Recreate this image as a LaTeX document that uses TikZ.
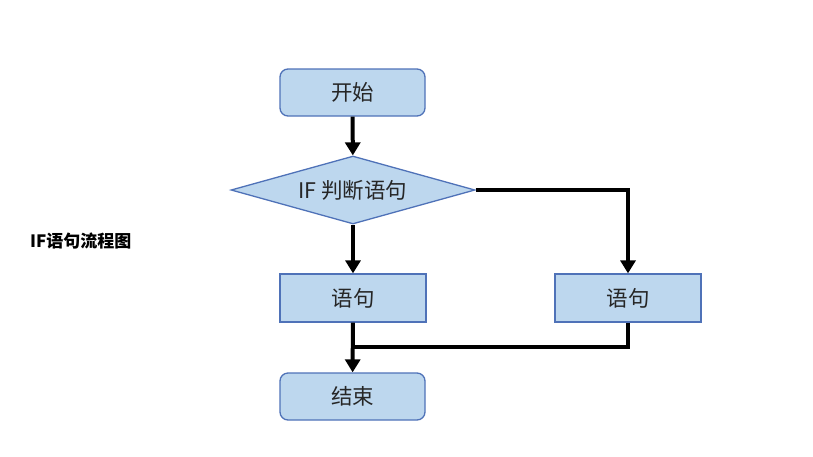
\documentclass[tikz,border=0pt]{standalone}
\usepackage{fontspec}
\setmainfont{Noto Sans CJK SC}
\newfontfamily\cjk{Noto Sans CJK SC}
\usetikzlibrary{arrows.meta,shapes.geometric}
\definecolor{boxfill}{HTML}{BDD7EE}
\definecolor{boxline}{HTML}{4F72B8}
\definecolor{txt}{HTML}{262626}
\begin{document}
\begin{tikzpicture}[x=1pt,y=-1pt,
  base/.style={draw=boxline,fill=boxfill,line width=1.3pt,text=txt,font=\cjk\fontsize{21.5}{24}\selectfont,inner sep=0pt},
  termbox/.style={base,rounded corners=8pt,minimum width=145pt,minimum height=47pt},
  stmtbox/.style={base,minimum width=146pt,minimum height=48pt},
  decbox/.style={base,diamond,aspect=3.6,minimum width=244pt,minimum height=68pt},
  flow/.style={line width=4pt,-{Triangle[length=13pt,width=15pt]}},
  plain/.style={line width=4pt}]
\useasboundingbox (0,0) rectangle (813,456);
\node[termbox] (start) at (352.5,92.5) {开始};
\node[decbox] (dec) at (353,190) {IF 判断语句};
\node[stmtbox] (s1) at (353,298) {语句};
\node[stmtbox] (s2) at (628,298) {语句};
\node[termbox] (end) at (352.5,396.5) {结束};
\node[anchor=west,font=\cjk\bfseries\fontsize{17}{20}\selectfont,text=black,inner sep=0pt] (title) at (30,241) {IF语句流程图};
\coordinate (j) at (353,347);
\coordinate (j2) at (628,347);
\draw[flow] (start) -- (dec);
\draw[flow] (dec) -- (s1);
\draw[flow] (dec.east) -| (s2.north);
\draw[flow] (s1) -- (end);
\draw[plain,line join=miter] (s2.south) -- (j2) -- (j);
\end{tikzpicture}
\end{document}
